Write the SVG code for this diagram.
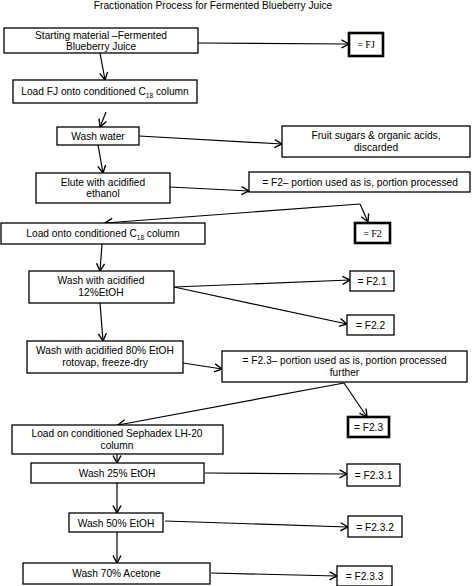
<svg xmlns="http://www.w3.org/2000/svg" width="473" height="586" viewBox="0 0 473 586">
<defs>
<marker id="arr" markerUnits="userSpaceOnUse" markerWidth="10" markerHeight="10" refX="7.5" refY="4" orient="auto" overflow="visible">
<path d="M0,0 L7.5,4 L0,8" fill="none" stroke="#000" stroke-width="1.4"/>
</marker>
<style>
rect{fill:#fff;stroke:#000;stroke-width:1.3}
rect.thick{stroke-width:2.6}
text{font-family:"Liberation Sans",Arial,sans-serif;font-size:10.2px;fill:#000;text-anchor:middle}
text.serif{font-family:"Liberation Serif","Times New Roman",serif;font-size:10px}
text.title{font-size:10.2px}
#connectors line{stroke:#000;stroke-width:1.2;fill:none;marker-end:url(#arr)}
</style>
</defs>
<rect x="0" y="0" width="473" height="586" style="fill:#fff;stroke:none"/>
<text class="title" x="213" y="9">Fractionation Process for Fermented Blueberry Juice</text>

<g id="connectors">
<line x1="198" y1="43" x2="349" y2="44"/>
<line x1="100" y1="53" x2="105" y2="80"/>
<line x1="106" y1="112" x2="100" y2="127"/>
<line x1="139" y1="136" x2="282" y2="144"/>
<line x1="98" y1="145" x2="103" y2="173"/>
<line x1="170" y1="187" x2="249" y2="191"/>
<line x1="360" y1="204" x2="105" y2="223"/>
<line x1="360" y1="204" x2="368" y2="222"/>
<line x1="102" y1="244" x2="100" y2="271"/>
<line x1="174" y1="287" x2="350" y2="280"/>
<line x1="174" y1="287" x2="347" y2="324"/>
<line x1="100" y1="303" x2="103" y2="341"/>
<line x1="183" y1="363" x2="222" y2="369"/>
<line x1="344" y1="383" x2="118" y2="425"/>
<line x1="344" y1="383" x2="367" y2="417"/>
<line x1="117" y1="454" x2="117" y2="463"/>
<line x1="205" y1="473" x2="347" y2="474"/>
<line x1="117" y1="483" x2="117" y2="513"/>
<line x1="165" y1="521" x2="348" y2="527"/>
<line x1="117" y1="532" x2="117" y2="563"/>
<line x1="211" y1="573" x2="337" y2="576"/>
</g>

<g id="n_start"><rect x="4" y="28" width="194" height="25"/><text x="101" y="39">Starting material –Fermented</text><text x="101" y="49.5">Blueberry Juice</text></g>
<g id="n_fj"><rect class="thick" x="349" y="33" width="34" height="23"/><text class="serif" x="366" y="48">= FJ</text></g>
<g id="n_load1"><rect x="13" y="80" width="184" height="23"/><text x="105" y="95">Load FJ onto conditioned C<tspan font-size="6.5" dy="3">18</tspan><tspan dy="-3"> column</tspan></text></g>
<g id="n_washwater"><rect x="57" y="127" width="82" height="18"/><text x="98" y="140">Wash water</text></g>
<g id="n_fruit"><rect x="282" y="126" width="188" height="31"/><text x="376" y="139">Fruit sugars &amp; organic acids,</text><text x="376" y="151">discarded</text></g>
<g id="n_elute"><rect x="36" y="173" width="134" height="30"/><text x="103" y="185.5">Elute with acidified</text><text x="103" y="197">ethanol</text></g>
<g id="n_f2portion"><rect x="249" y="172" width="221" height="20"/><text x="360" y="185.5">= F2– portion used as is, portion processed</text></g>
<g id="n_load2"><rect x="1" y="223" width="204" height="21"/><text x="103" y="237">Load onto conditioned C<tspan font-size="6.5" dy="3">18</tspan><tspan dy="-3"> column</tspan></text></g>
<g id="n_f2"><rect class="thick" x="355" y="223" width="35" height="20"/><text class="serif" x="372.5" y="237">= F2</text></g>
<g id="n_wash12"><rect x="29" y="271" width="145" height="32"/><text x="101" y="284">Wash with acidified</text><text x="101" y="295.5">12%EtOH</text></g>
<g id="n_f21"><rect x="350" y="271" width="44" height="20"/><text x="372" y="285">= F2.1</text></g>
<g id="n_f22"><rect x="347" y="315" width="47" height="20"/><text x="370.5" y="329">= F2.2</text></g>
<g id="n_wash80"><rect x="27" y="341" width="156" height="32"/><text x="105" y="354">Wash with acidified 80% EtOH</text><text x="105" y="366">rotovap, freeze-dry</text></g>
<g id="n_f23portion"><rect x="222" y="351" width="245" height="31"/><text x="344.5" y="364">= F2.3– portion used as is, portion processed</text><text x="344.5" y="376">further</text></g>
<g id="n_f23"><rect class="thick" x="348" y="417" width="41" height="20"/><text x="368.5" y="431">= F2.3</text></g>
<g id="n_loadseph"><rect x="12" y="425" width="211" height="29"/><text x="117" y="437">Load on conditioned Sephadex LH-20</text><text x="117" y="449">column</text></g>
<g id="n_wash25"><rect x="31" y="463" width="173" height="20"/><text x="117" y="477">Wash 25% EtOH</text></g>
<g id="n_f231"><rect x="347" y="464" width="53" height="22"/><text x="373.5" y="479">= F2.3.1</text></g>
<g id="n_wash50"><rect x="69" y="513" width="94" height="19"/><text x="116" y="526.5">Wash 50% EtOH</text></g>
<g id="n_f232"><rect x="348" y="516" width="54" height="21"/><text x="375" y="530.5">= F2.3.2</text></g>
<g id="n_wash70"><rect x="23" y="563" width="187" height="21"/><text x="116.5" y="577">Wash 70% Acetone</text></g>
<g id="n_f233"><rect x="337" y="566" width="55" height="20"/><text x="364.5" y="580">= F2.3.3</text></g>
</svg>
